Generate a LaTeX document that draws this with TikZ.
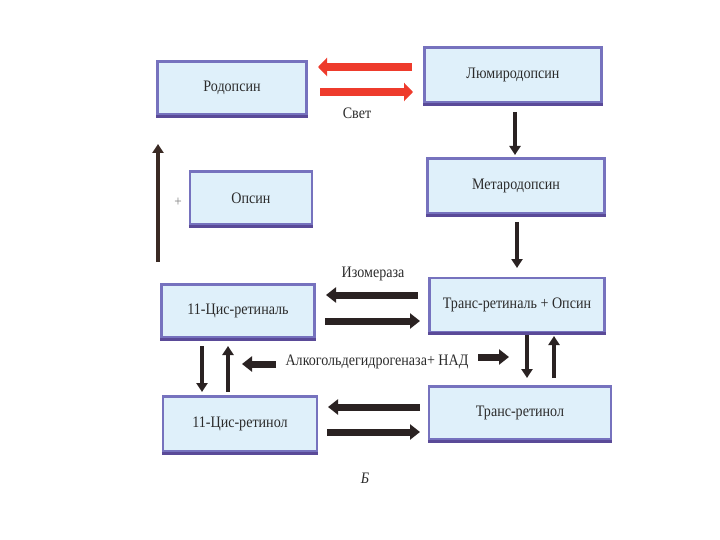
\documentclass[tikz,border=0pt]{standalone}
\usepackage{fontspec}
\setmainfont{Liberation Serif}[FakeStretch=0.88]
\usetikzlibrary{arrows.meta}
\definecolor{boxfill}{HTML}{DFF0FA}
\definecolor{boxline}{HTML}{7672BE}
\definecolor{boxbottom}{HTML}{5A4A98}
\definecolor{redarr}{HTML}{EE3B2C}
\definecolor{darkarr}{HTML}{2A2222}
\definecolor{longarr}{HTML}{3A2A24}
\definecolor{txt}{HTML}{2B2B2B}
\tikzset{
  stage/.style={draw=boxline, line width=2.4pt, fill=boxfill, inner sep=2pt,
    minimum height=53pt, text=txt, font=\fontsize{16}{18}\selectfont},
  redtip/.style={line width=8.5pt, draw=redarr, -{Triangle[width=18pt,length=9pt]}},
  bigtip/.style={line width=7pt, draw=darkarr, -{Triangle[width=15pt,length=10pt]}},
  smalltip/.style={line width=4.5pt, draw=darkarr, -{Triangle[width=11pt,length=9pt]}},
  lbl/.style={text=txt, font=\fontsize{16}{18}\selectfont, inner sep=1pt}
}
\begin{document}
\begin{tikzpicture}[x=1pt,y=-1pt]
\useasboundingbox (0,0) rectangle (720,540);
% boxes
\node[stage, minimum width=149pt] (rhod) at (232,88) {Родопсин};
\node[stage, minimum width=177pt, minimum height=55pt] (lumi) at (513,75) {Люмиродопсин};
\node[stage, minimum width=122pt] (opsin) at (251,198) {Опсин};
\node[stage, minimum width=177pt, minimum height=55pt] (meta) at (516,186) {Метародопсин};
\node[stage, minimum width=153pt] (cisal) at (238,311) {11-Цис-ретиналь};
\node[stage, minimum width=175pt, minimum height=54pt] (transal) at (517,305) {Транс-ретиналь + Опсин};
\node[stage, minimum width=154pt, minimum height=55pt] (cisol) at (240,424) {11-Цис-ретинол};
\node[stage, minimum width=182pt] (transol) at (520,413) {Транс-ретинол};
\foreach \n in {rhod,lumi,opsin,meta,cisal,transal,cisol,transol}
  \draw[boxbottom, line width=3.2pt] ([yshift=-0.6pt]\n.south west) -- ([yshift=-0.6pt]\n.south east);

% red arrows (light)
\coordinate (r1a) at (412,67); \coordinate (r1b) at (318,67);
\coordinate (r2a) at (320,92); \coordinate (r2b) at (413,92);
\draw[redtip] (r1a) -- (r1b);
\draw[redtip] (r2a) -- (r2b);
\node[lbl] (svet) at (357,113) {Свет};

% vertical arrows right column
\coordinate (v1a) at (515,112); \coordinate (v1b) at (515,155);
\coordinate (v2a) at (517,222); \coordinate (v2b) at (517,268);
\draw[smalltip] (v1a) -- (v1b);
\draw[smalltip] (v2a) -- (v2b);

% long up arrow left + plus
\coordinate (up1) at (158,262); \coordinate (up2) at (158,144);
\draw[smalltip, draw=longarr] (up1) -- (up2);
\node[text=gray, font=\fontsize{15}{17}\selectfont, inner sep=0pt] (plus) at (178,202) {+};

% isomerase arrows
\node[lbl] (izo) at (373,274) {Изомераза};
\coordinate (i1a) at (418,295); \coordinate (i1b) at (326,295);
\coordinate (i2a) at (325,321); \coordinate (i2b) at (420,321);
\draw[bigtip] (i1a) -- (i1b);
\draw[bigtip] (i2a) -- (i2b);

% bottom arrows
\coordinate (b1a) at (420,407); \coordinate (b1b) at (328,407);
\coordinate (b2a) at (327,432); \coordinate (b2b) at (420,432);
\draw[bigtip] (b1a) -- (b1b);
\draw[bigtip] (b2a) -- (b2b);

% alcohol dehydrogenase
\node[lbl] (adh) at (377,362) {Алкогольдегидрогеназа+ НАД};
\coordinate (a1a) at (276,364); \coordinate (a1b) at (242,364);
\coordinate (a2a) at (478,357); \coordinate (a2b) at (509,357);
\draw[bigtip] (a1a) -- (a1b);
\draw[bigtip] (a2a) -- (a2b);

% small vertical pairs
\coordinate (l1a) at (202,346); \coordinate (l1b) at (202,392);
\coordinate (l2a) at (228,392); \coordinate (l2b) at (228,346);
\draw[smalltip] (l1a) -- (l1b);
\draw[smalltip] (l2a) -- (l2b);
\coordinate (r3a) at (527,335); \coordinate (r3b) at (527,378);
\coordinate (r4a) at (554,378); \coordinate (r4b) at (554,336);
\draw[smalltip] (r3a) -- (r3b);
\draw[smalltip] (r4a) -- (r4b);

\node[lbl, font=\itshape\fontsize{16}{18}\selectfont] (b) at (365,478) {Б};
\end{tikzpicture}
\end{document}
